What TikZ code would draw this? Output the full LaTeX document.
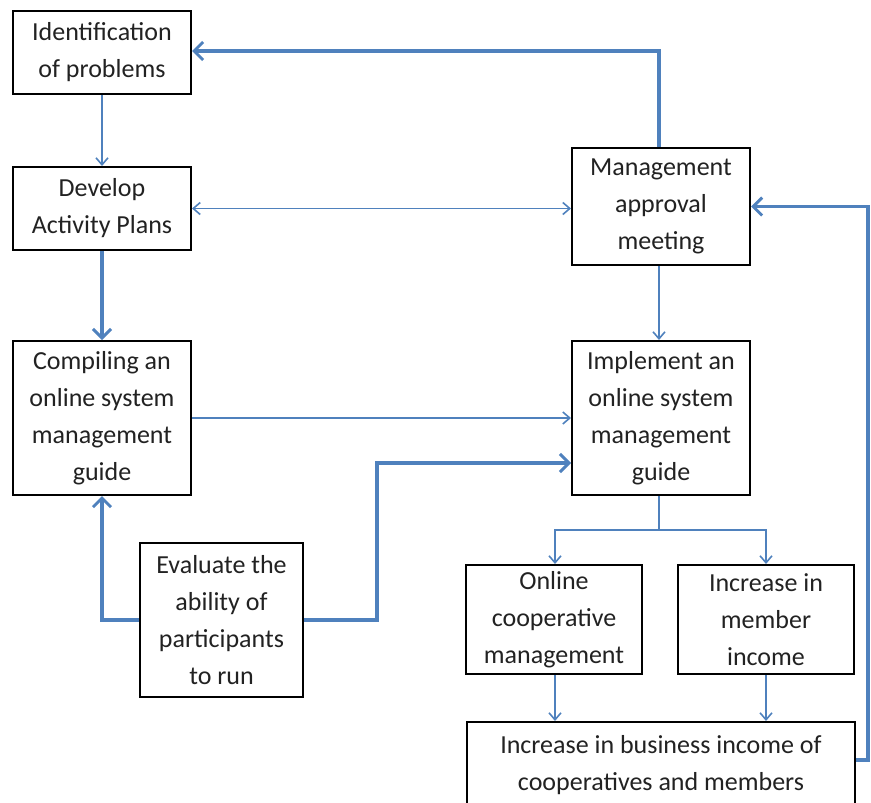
\documentclass[tikz,border=0pt]{standalone}
\usepackage{fontspec}
\setmainfont{Carlito}
\usetikzlibrary{arrows.meta}
\definecolor{lineblue}{HTML}{4F81BD}
\definecolor{txt}{HTML}{222222}
\tikzset{
  box/.style={draw=black, line width=2pt, fill=white, align=center, inner sep=0pt,
    text=txt, font=\fontsize{26}{37}\selectfont},
  thinar/.style={draw=lineblue, line width=1.6pt, -{Straight Barb[length=7pt,width=12pt,line width=1.6pt]}},
  thickar/.style={draw=lineblue, line width=3.5pt, -{Straight Barb[length=9pt,width=18pt,line width=3pt]}},
  thinln/.style={draw=lineblue, line width=1.6pt},
}
\begin{document}
\begin{tikzpicture}[x=1pt,y=1pt]
\useasboundingbox (0,0) rectangle (871,-803);
\clip (0,0) rectangle (871,-803);
\node[box, minimum width=178pt, minimum height=83pt] (ident) at (102,-52.5) {Identification\\of problems};
\node[box, minimum width=178pt, minimum height=83pt] (dev) at (102,-208.5) {Develop\\Activity Plans};
\node[box, minimum width=178pt, minimum height=154pt] (comp) at (102,-418) {Compiling an\\online system\\management\\guide};
\node[box, minimum width=178pt, minimum height=117pt] (mgmt) at (661,-206.5) {Management\\approval\\meeting};
\node[box, minimum width=178pt, minimum height=154pt] (impl) at (661,-418) {Implement an\\online system\\management\\guide};
\node[box, minimum width=163pt, minimum height=154pt] (eval) at (221.5,-620) {Evaluate the\\ability of\\participants\\to run};
\node[box, minimum width=176pt, minimum height=109pt] (online) at (554,-619.5) {Online\\cooperative\\management};
\node[box, minimum width=176pt, minimum height=109pt] (member) at (766,-619.5) {Increase in\\member\\income};
\node[box, minimum width=388pt, minimum height=86pt] (bus) at (661,-765) {Increase in business income of\\cooperatives and members};

\coordinate (tr) at (659,-51);
\coordinate (br) at (555,-530);
\coordinate (bl) at (766,-530);
\coordinate (mid) at (659,-530);

% top feedback
\draw[thickar] (mgmt.north -| tr) -- (tr) -- (ident.east |- tr);
\draw[thinar] (ident.south) -- (dev.north);
\draw[thinln, {Straight Barb[length=7pt,width=12pt,line width=1.6pt]}-{Straight Barb[length=7pt,width=12pt,line width=1.6pt]}] (dev.east) -- (mgmt.west |- dev.east);
\draw[thickar] (dev.south) -- (comp.north);
\draw[thinar] (comp.east) -- (impl.west |- comp.east);
\draw[thickar] (eval.west) -| (comp.south);
\coordinate (ev1) at (377,-463);
\draw[thickar] (eval.east) -| (ev1) -- (impl.west |- ev1);
\draw[thinar] (mgmt.south -| tr) -- (impl.north -| tr);
\draw[thinln] (impl.south -| mid) -- (mid);
\draw[thinar] (mid) -- (br) -- (online.north -| br);
\draw[thinar] (mid) -- (bl) -- (member.north -| bl);
\draw[thinar] (online.south -| br) -- (bus.north -| br);
\draw[thinar] (member.south -| bl) -- (bus.north -| bl);
\coordinate (rc) at (868,-760);
\draw[thickar] (bus.east |- rc) -- (rc) -- (rc |- mgmt.east) -- (mgmt.east);
\end{tikzpicture}
\end{document}
